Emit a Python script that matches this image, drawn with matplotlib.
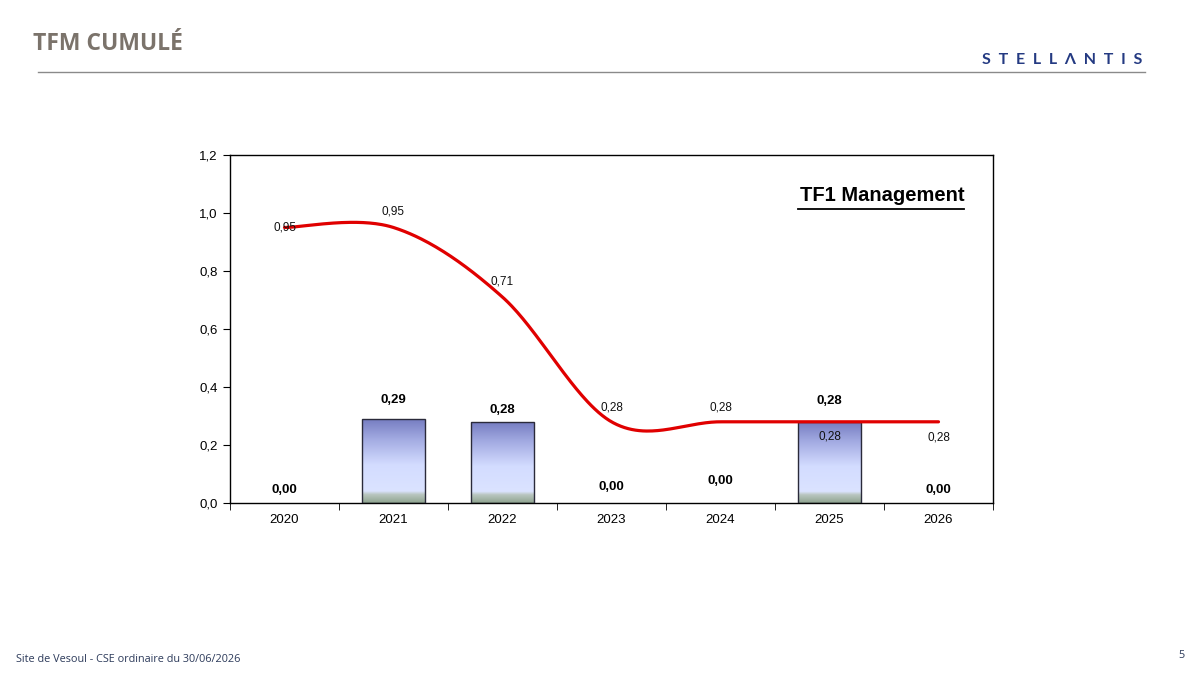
import numpy as np
import matplotlib
matplotlib.use("Agg")
import matplotlib.pyplot as plt
from matplotlib.colors import LinearSegmentedColormap
from matplotlib.patches import Rectangle

# ---------------- data ----------------
years = ["2020", "2021", "2022", "2023", "2024", "2025", "2026"]
line_values = [0.95, 0.95, 0.71, 0.28, 0.28, 0.28, 0.28]
bar_values = [0.00, 0.29, 0.28, 0.00, 0.00, 0.28, 0.00]
line_labels = ["0,95", "0,95", "0,71", "0,28", "0,28", "0,28", "0,28"]
bar_labels = ["0,00", "0,29", "0,28", "0,00", "0,00", "0,28", "0,00"]
# vertical positions (data units) where labels appear in the reference
line_label_y = [0.95, 1.005, 0.765, 0.33, 0.33, 0.23, 0.225]
bar_label_y = [0.045, 0.355, 0.32, 0.055, 0.075, 0.35, 0.045]
yticks = [0.0, 0.2, 0.4, 0.6, 0.8, 1.0, 1.2]
ytick_labels = ["0,0", "0,2", "0,4", "0,6", "0,8", "1,0", "1,2"]

NARROW = ["Liberation Sans Narrow", "Liberation Sans", "DejaVu Sans"]

fig = plt.figure(figsize=(12, 6.73), dpi=100)
fig.patch.set_facecolor("white")

ax = fig.add_axes([230 / 1200, 1 - 503 / 673, (993 - 230) / 1200, (503 - 155) / 673])

# ---------------- gradient bars ----------------
cmap = LinearSegmentedColormap.from_list(
    "bar",
    [(0.0, "#747bc0"), (0.25, "#a3abe2"), (0.55, "#d3dcff"),
     (0.86, "#dbe3ff"), (0.90, "#b9c6c0"), (1.0, "#8fa48f")])
grad = np.linspace(0, 1, 256).reshape(-1, 1)
bw = 0.57
x = np.arange(len(years))
for xi, v in zip(x, bar_values):
    if v <= 0:
        continue
    rect = Rectangle((xi - bw / 2, 0), bw, v, facecolor="none",
                     edgecolor="#2a2a3a", lw=1.0, zorder=3)
    ax.add_patch(rect)
    im = ax.imshow(grad, cmap=cmap, aspect="auto",
                   extent=(xi - bw / 2, xi + bw / 2, 0, v), origin="upper",
                   zorder=2)
    im.set_clip_path(rect)
ax.set_aspect("auto")
ax.set_xlim(-0.5, len(years) - 0.5)
ax.set_ylim(0, 1.2)

# ---------------- smoothed line (Excel-style Bezier) ----------------
def excel_smooth(xs, ys, n=60):
    P = np.column_stack([xs, ys]).astype(float)
    ext = np.vstack([P[0], P, P[-1]])
    out = []
    for i in range(len(P) - 1):
        p0, p3 = ext[i + 1], ext[i + 2]
        c1 = p0 + (ext[i + 2] - ext[i]) / 6.0
        c2 = p3 - (ext[i + 3] - ext[i + 1]) / 6.0
        t = np.linspace(0, 1, n)[:, None]
        seg = ((1 - t) ** 3) * p0 + 3 * ((1 - t) ** 2) * t * c1 + 3 * (1 - t) * t ** 2 * c2 + t ** 3 * p3
        out.append(seg if i == 0 else seg[1:])
    return np.vstack(out)

curve = excel_smooth(x, line_values)
ax.plot(curve[:, 0], curve[:, 1], color="#e00000", lw=2.3, solid_capstyle="round", zorder=4)

# ---------------- labels ----------------
for xi, lab, ly in zip(x, line_labels, line_label_y):
    ax.text(xi, ly, lab, ha="center", va="center", fontsize=8.5,
            family=["Liberation Sans", "DejaVu Sans"], color="#111111", zorder=5)
for xi, lab, ly in zip(x, bar_labels, bar_label_y):
    ax.text(xi, ly, lab, ha="center", va="center", fontsize=9.5, fontweight="bold",
            family=NARROW, color="#000000", zorder=5)

# title inside chart with underline
ax.text(0.962, 0.885, "TF1 Management", transform=ax.transAxes, ha="right",
        va="center", fontsize=14.5, fontweight="bold", family=NARROW, color="#000000")
ax.plot([0.744, 0.962], [0.846, 0.846], transform=ax.transAxes, color="black", lw=1.3,
        clip_on=False)

# ---------------- axes styling ----------------
for s in ax.spines.values():
    s.set_color("black")
    s.set_linewidth(1.0)
ax.set_yticks(yticks)
ax.set_yticklabels(ytick_labels, family=NARROW, fontsize=9.5)
ax.set_xticks(x)
ax.set_xticklabels(years, family=NARROW, fontsize=9.5)
ax.tick_params(axis="x", which="major", length=0, pad=8)
ax.set_xticks(np.arange(-0.5, len(years) + 0.5, 1), minor=True)
ax.tick_params(axis="x", which="minor", length=5, direction="out", color="black")
ax.tick_params(axis="y", length=5, direction="out", color="black", pad=4)

# ---------------- page decorations ----------------
fig.text(33 / 1200, 1 - 44 / 673, "TFM CUMULÉ", fontsize=16.5, fontweight="bold",
         family=["Open Sans", "DejaVu Sans"], color="#7b736b", ha="left", va="center")
fig.add_artist(plt.Line2D([38 / 1200, 1145 / 1200], [1 - 72 / 673, 1 - 72 / 673],
                          color="#8a8a8a", lw=1.0))
fig.text(1062 / 1200, 1 - 60 / 673, "S  T  E  L  L  Λ  N  T  I  S", fontsize=11.5,
         fontweight="bold", family=["Lato", "DejaVu Sans"], color="#243a82",
         ha="center", va="center")
fig.text(16 / 1200, 1 - 659 / 673, "Site de Vesoul - CSE ordinaire du 30/06/2026", fontsize=7.8,
         family=["Open Sans", "DejaVu Sans"], color="#2c3a5a", ha="left", va="center")
fig.text(1181 / 1200, 1 - 656 / 673, "5", fontsize=7.8,
         family=["Open Sans", "DejaVu Sans"], color="#2c3a5a", ha="center", va="center")

fig.savefig("out.png", dpi=100, facecolor="white")
